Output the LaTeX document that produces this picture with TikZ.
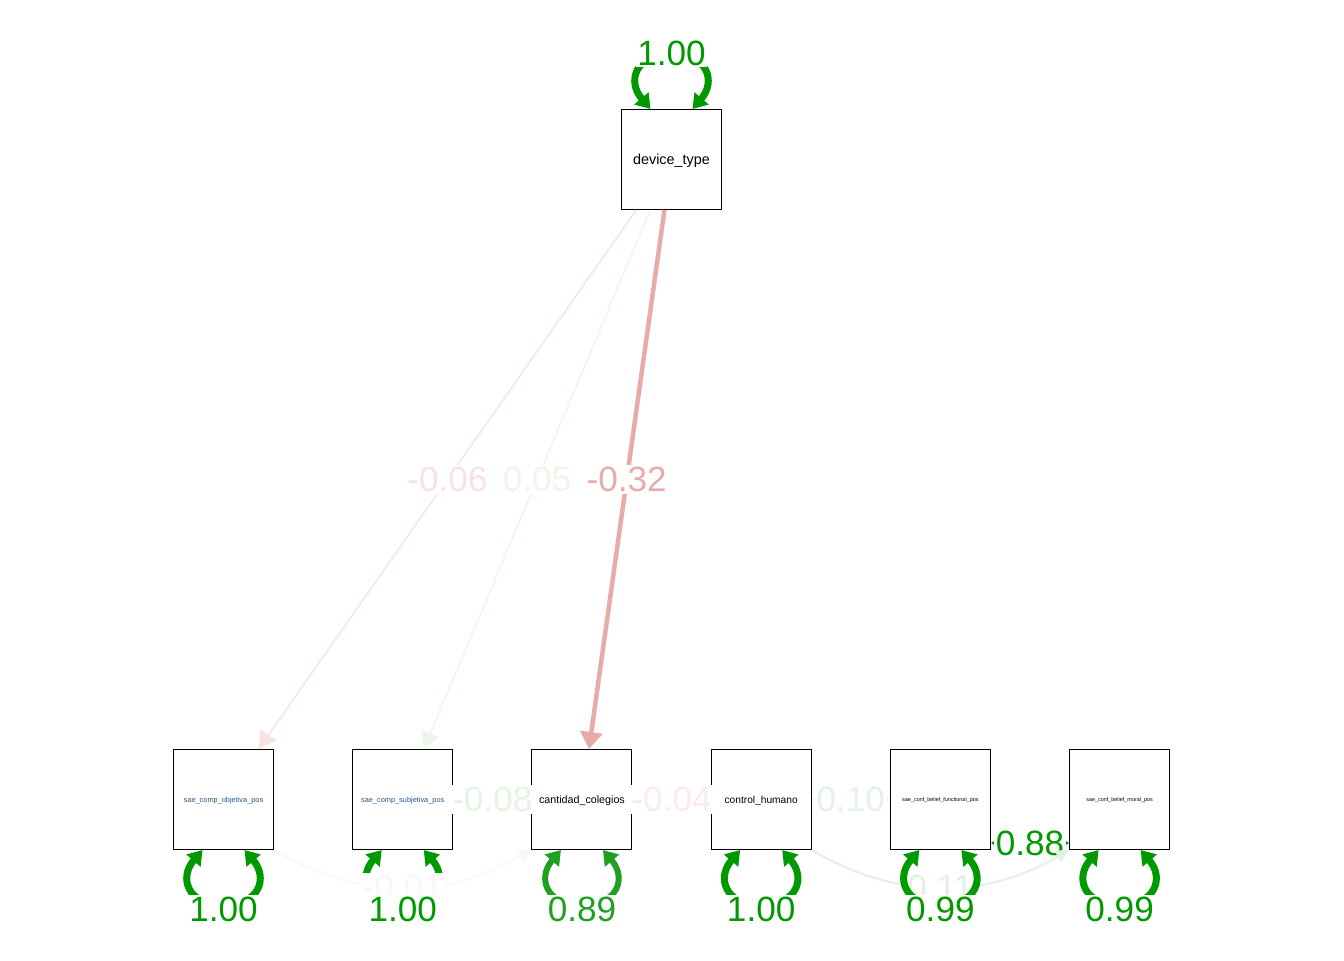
\documentclass[tikz,border=0pt]{standalone}
\usepackage{fontspec}
\setmainfont{Liberation Sans}
\usetikzlibrary{arrows.meta, chains, positioning}
\definecolor{posfull}{RGB}{0,153,0}
\definecolor{poseightnine}{RGB}{32,160,32}
\definecolor{negthreetwo}{RGB}{233,170,170}
\definecolor{negzerosix}{RGB}{249,226,226}
\definecolor{negzerofour}{RGB}{251,236,236}
\definecolor{negzeroone}{RGB}{253,246,246}
\definecolor{poszerofive}{RGB}{236,247,236}
\definecolor{poszeroeight}{RGB}{230,244,230}
\definecolor{posonezero}{RGB}{228,243,228}
\definecolor{posoneone}{RGB}{226,242,226}
\definecolor{compblue}{RGB}{35,85,140}
\tikzset{
  >={Triangle[length=0.34cm,width=0.38cm]},
  varbox/.style={
    rectangle,
    draw=black, line width=0.6pt,
    minimum size=2cm,
    inner sep=0pt,
    text depth=0pt,
    fill=white},
  regline/.style={line width=0.03cm, ->},
  varloop/.style={line width=0.14cm,
    {Triangle[length=0.28cm,width=0.36cm]}-{Triangle[length=0.28cm,width=0.36cm]}},
  covcurve/.style={line width=0.04cm, -{Triangle[length=0.26cm,width=0.26cm]}, bend right=30},
  edgelabel/.style={fill=white, inner sep=1pt, font=\fontsize{20}{20}\selectfont},
}

\begin{document}
\begin{tikzpicture}[x=0.02cm, y=-0.02cm, node distance=1.564cm]
     \useasboundingbox (0,0) rectangle (1344,960);
     \node[varbox, font=\fontsize{8.2}{10}\selectfont] (DeviceType) at (671.5,159.5) {device\_type};
     \begin{scope}[shift={(223.5,799.5)}, start chain=going right]
     \node[varbox, on chain, text=compblue, font=\fontsize{4.2}{5}\selectfont] (SaeCompObjetiva)  {sae\_comp\_objetiva\_pos};
     \node[varbox, on chain, text=compblue, font=\fontsize{4.2}{5}\selectfont] (SaeCompSubjetiva) {sae\_comp\_subjetiva\_pos};
     \node[varbox, on chain, font=\fontsize{6.1}{7}\selectfont] (CantidadColegios) {cantidad\_colegios};
     \node[varbox, on chain, font=\fontsize{5.8}{7}\selectfont] (ControlHumano)    {control\_humano};
     \node[varbox, on chain, font=\fontsize{3.1}{4}\selectfont] (SaeConfFunctional) {sae\_conf\_belief\_functional\_pos};
     \node[varbox, on chain, font=\fontsize{3.1}{4}\selectfont] (SaeConfMoral)     {sae\_conf\_belief\_moral\_pos};
     \end{scope}
     % regressions from device_type
     \draw[regline, negzerosix] (DeviceType) -- node[edgelabel, text=negzerosix] {-0.06} (SaeCompObjetiva);
     \draw[regline, poszerofive] (DeviceType) -- node[edgelabel, text=poszerofive] {0.05} (SaeCompSubjetiva);
     \draw[regline, negthreetwo, line width=0.09cm, >={Triangle[length=0.34cm,width=0.44cm]}] (DeviceType) -- node[edgelabel, text=negthreetwo] {-0.32} (CantidadColegios);
     % row edges
     \draw[regline, poszeroeight] (SaeCompSubjetiva) -- node[edgelabel, text=poszeroeight] {-0.08} (CantidadColegios);
     \draw[regline, negzerofour] (CantidadColegios) -- node[edgelabel, text=negzerofour] {-0.04} (ControlHumano);
     \draw[regline, posonezero] (ControlHumano) -- node[edgelabel, text=posonezero] {0.10} (SaeConfFunctional);
     \draw[posfull, line width=0.03cm, {Triangle[length=0.12cm,width=0.14cm]}-{Triangle[length=0.12cm,width=0.14cm]}] ([shift={(0,43.5)}]SaeConfFunctional.east) -- node[edgelabel, text=posfull] {0.88} ([shift={(0,43.5)}]SaeConfMoral.west);
     % variances
     \draw[varloop, posfull] ([shift={(-21,0)}]DeviceType.north) .. controls +(-24,-28) and +(-36,0) .. ([shift={(0,-55)}]DeviceType.north) .. controls +(36,0) and +(24,-28) .. ([shift={(21,0)}]DeviceType.north);
     \foreach \nd/\col/\lw in {SaeCompObjetiva/posfull/0.14, SaeCompSubjetiva/posfull/0.14, CantidadColegios/poseightnine/0.12, ControlHumano/posfull/0.14, SaeConfMoral/posfull/0.14}
       \draw[varloop, \col, line width=\lw cm] ([shift={(-21,0)}]\nd.south) .. controls +(-24,28) and +(-36,0) .. ([shift={(0,55)}]\nd.south) .. controls +(36,0) and +(24,28) .. ([shift={(21,0)}]\nd.south);
     % covariances below the row
     \draw[covcurve, negzeroone] (SaeCompObjetiva.south east) to node[edgelabel, text=negzeroone] {-0.01} (CantidadColegios.south west);
     \draw[covcurve, posoneone] (ControlHumano.south east) to node[edgelabel, text=posoneone] {0.11} (SaeConfMoral.south west);
     \draw[varloop, posfull] ([shift={(-21,0)}]SaeConfFunctional.south) .. controls +(-24,28) and +(-36,0) .. ([shift={(0,55)}]SaeConfFunctional.south) .. controls +(36,0) and +(24,28) .. ([shift={(21,0)}]SaeConfFunctional.south);
     % variance labels
     \node[edgelabel, text=posfull] (VarDevice) at ([shift={(0,-56)}]DeviceType.north) {1.00};
     \foreach \nd/\col/\val in {SaeCompObjetiva/posfull/1.00, SaeCompSubjetiva/posfull/1.00, CantidadColegios/poseightnine/0.89, ControlHumano/posfull/1.00, SaeConfFunctional/posfull/0.99, SaeConfMoral/posfull/0.99}
       \node[edgelabel, text=\col] (Var\nd) at ([shift={(0,59)}]\nd.south) {\val};
\end{tikzpicture}
\end{document}
